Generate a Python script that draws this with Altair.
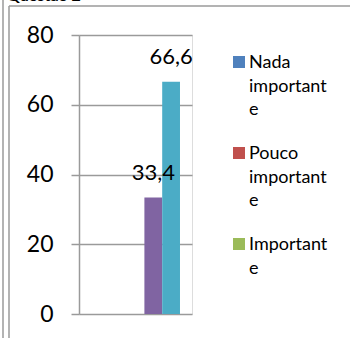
import altair as alt
import pandas as pd

categories = ["Questão 2"] * 5
series = ["Nada importante", "Pouco importante", "Importante", "Muito importante", "Extremamente importante"]
values = [None, None, None, 33.4, 66.6]
value_labels = ["", "", "", "33,4", "66,6"]
colors = ["#4F81BD", "#C0504D", "#9BBB59", "#8064A2", "#4BACC6"]
y_ticks = [0, 20, 40, 60, 80]
legend_shown = ["Nada importante", "Pouco importante", "Importante"]
title_text = "Questão 2"

df = pd.DataFrame({"cat": categories, "serie": series, "valor": values, "rotulo": value_labels})

FONT = "Lato"
GRAY = "#9a9a9a"

x_enc = alt.X("cat:N", axis=None, scale=alt.Scale(paddingInner=0, paddingOuter=0.135))
xo_enc = alt.XOffset("serie:N", sort=series, scale=alt.Scale(domain=series, paddingInner=0, paddingOuter=0))
y_enc = alt.Y("valor:Q", scale=alt.Scale(domain=[0, 80], nice=False, zero=True),
              axis=alt.Axis(values=y_ticks, title=None, grid=True, gridColor=GRAY, gridWidth=1.5,
                            domainColor=GRAY, domainWidth=1.5, tickColor=GRAY, tickWidth=1.5, tickSize=8,
                            labelFontSize=23, labelFont=FONT, labelColor="#000", labelPadding=16,
                            labelOffset=8))

label_expr = ("datum.label == 'Nada importante' ? ['Nada','important','e'] : "
              "datum.label == 'Pouco importante' ? ['Pouco','important','e'] : ['Important','e']")

bars = alt.Chart(df).mark_bar().encode(
    x=x_enc, xOffset=xo_enc, y=y_enc,
    color=alt.Color("serie:N", scale=alt.Scale(domain=series, range=colors),
                    legend=alt.Legend(values=legend_shown, title=None, orient="none", legendX=151, legendY=18,
                                      symbolType="square", symbolSize=144, symbolStrokeWidth=0,
                                      labelFontSize=18, labelFont=FONT, labelColor="#000", labelLimit=0,
                                      labelBaseline="top", labelOffset=3, rowPadding=25,
                                      labelExpr=label_expr))
)

texts = alt.Chart(df).transform_filter("datum.valor != null").mark_text(
    dy=-18, baseline="alphabetic", fontSize=22, font=FONT, color="#000"
).encode(x=x_enc, xOffset=xo_enc, y=alt.Y("valor:Q"), text="rotulo:N")

frame_df = pd.DataFrame({"k": [0]})
left1 = alt.Chart(frame_df).mark_rule(color=GRAY, strokeWidth=1.5).encode(
    x=alt.value(-76), y=alt.value(-35), y2=alt.value(303))
left2 = alt.Chart(frame_df).mark_rule(color=GRAY, strokeWidth=1.5).encode(
    x=alt.value(-70), y=alt.value(-29), y2=alt.value(303))
top = alt.Chart(frame_df).mark_rule(color=GRAY, strokeWidth=1.5).encode(
    x=alt.value(-70), x2=alt.value(271), y=alt.value(-29))
title = alt.Chart(frame_df).mark_text(
    align="left", baseline="alphabetic", fontSize=16, fontWeight="bold", font=FONT, color="#000"
).encode(x=alt.value(-72), y=alt.value(-34), text=alt.value(title_text))

chart = alt.layer(bars, texts, left1, left2, top, title).properties(
    width=113, height=279,
    padding={"left": 79, "top": 35, "right": 158, "bottom": 24},
    autosize=alt.AutoSizeParams(type="none"),
).configure_view(stroke=None).configure(
    background="white",
    style={"guide-label": {"lineHeight": 23.5, "dy": -8, "dx": -2}},
)

chart.save("out.html", embed_options={"renderer": "svg", "actions": False})
